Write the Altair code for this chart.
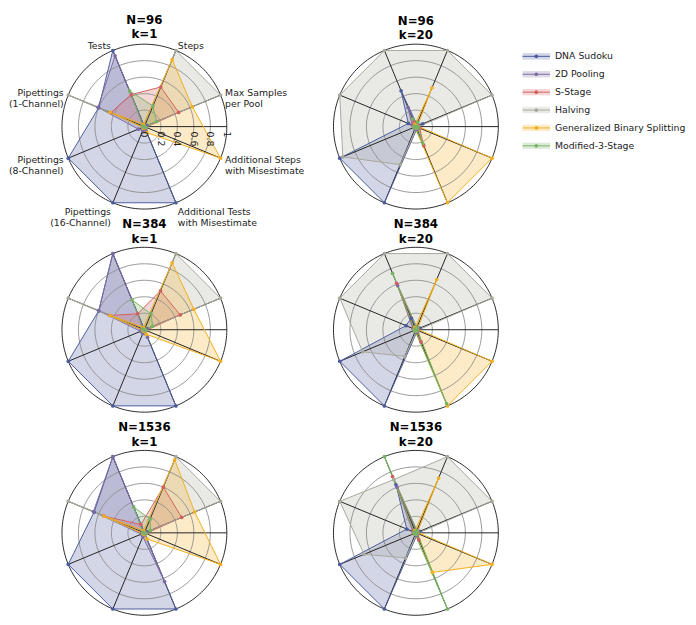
import altair as alt
import pandas as pd

FONT = "DejaVu Sans"

# categories in counter-clockwise order, starting at 22.5 degrees
CATEGORIES = [
    "Max Samples\nper Pool",
    "Steps",
    "Tests",
    "Pipettings\n(1-Channel)",
    "Pipettings\n(8-Channel)",
    "Pipettings\n(16-Channel)",
    "Additional Tests\nwith Misestimate",
    "Additional Steps\nwith Misestimate",
]
METHODS = ["DNA Sudoku", "2D Pooling", "S-Stage", "Halving",
           "Generalized Binary Splitting", "Modified-3-Stage"]
LINE_COLORS = ["#4a5c9e", "#7d6ba3", "#d35f5f", "#a7a89a", "#f2ae1c", "#78b265"]

PANEL_TITLES = [["N=96", "k=1"], ["N=96", "k=20"],
                ["N=384", "k=1"], ["N=384", "k=20"],
                ["N=1536", "k=1"], ["N=1536", "k=20"]]
RING_VALUES = [0.2, 0.4, 0.6, 0.8, 1.0]
TICK_VALUES = [0, 0.2, 0.4, 0.6, 0.8, 1.0]
TICK_LABELS = ["0", "0.2", "0.4", "0.6", "0.8", "1"]

# normalised values, in CATEGORIES order
N96_K1 = {
    "DNA Sudoku":                   [0.03, 0.00, 1.00, 0.60, 1.00, 1.00, 1.00, 0.00],
    "2D Pooling":                   [0.02, 0.00, 0.93, 0.61, 0.08, 0.05, 0.05, 0.00],
    "S-Stage":                      [0.45, 0.52, 0.42, 0.44, 0.02, 0.02, 0.02, 0.02],
    "Halving":                      [1.00, 1.00, 0.02, 1.00, 0.02, 0.02, 0.00, 0.00],
    "Generalized Binary Splitting": [0.63, 0.88, 0.03, 0.45, 0.02, 0.02, 0.08, 1.00],
    "Modified-3-Stage":             [0.16, 0.27, 0.47, 0.02, 0.01, 0.01, 0.01, 0.02],
}
N96_K20 = {
    "DNA Sudoku":                   [0.09, 0.03, 0.47, 0.10, 1.00, 1.00, 0.03, 0.00],
    "2D Pooling":                   [0.02, 0.02, 0.25, 0.05, 0.03, 0.03, 0.03, 0.00],
    "S-Stage":                      [0.03, 0.04, 0.06, 0.03, 0.02, 0.02, 0.25, 0.05],
    "Halving":                      [1.00, 1.00, 1.00, 1.00, 0.96, 0.50, 0.02, 0.02],
    "Generalized Binary Splitting": [0.02, 0.51, 0.03, 0.02, 0.02, 0.02, 1.00, 1.00],
    "Modified-3-Stage":             [0.02, 0.06, 0.10, 0.02, 0.02, 0.02, 0.22, 0.03],
}
N384_K1 = {
    "DNA Sudoku":                   [0.03, 0.00, 1.00, 0.60, 1.00, 1.00, 1.00, 0.00],
    "2D Pooling":                   [0.02, 0.00, 1.00, 0.60, 0.05, 0.05, 0.10, 0.00],
    "S-Stage":                      [0.47, 0.51, 0.21, 0.45, 0.02, 0.02, 0.02, 0.02],
    "Halving":                      [1.00, 1.00, 0.02, 1.00, 0.02, 0.02, 0.00, 0.00],
    "Generalized Binary Splitting": [0.65, 0.88, 0.03, 0.45, 0.02, 0.02, 0.06, 1.00],
    "Modified-3-Stage":             [0.11, 0.21, 0.39, 0.02, 0.01, 0.01, 0.01, 0.02],
}
N384_K20 = {
    "DNA Sudoku":                   [0.05, 0.02, 0.15, 0.13, 1.00, 1.00, 0.03, 0.00],
    "2D Pooling":                   [0.02, 0.02, 0.58, 0.04, 0.02, 0.02, 0.03, 0.00],
    "S-Stage":                      [0.03, 0.03, 0.61, 0.03, 0.02, 0.02, 0.16, 0.03],
    "Halving":                      [1.00, 1.00, 1.00, 1.00, 0.70, 0.35, 0.02, 0.02],
    "Generalized Binary Splitting": [0.02, 0.66, 0.03, 0.02, 0.02, 0.02, 1.00, 1.00],
    "Modified-3-Stage":             [0.02, 0.03, 0.74, 0.02, 0.02, 0.02, 0.97, 0.02],
}
N1536_K1 = {
    "DNA Sudoku":                   [0.03, 0.00, 1.00, 0.66, 1.00, 1.00, 1.00, 0.00],
    "2D Pooling":                   [0.02, 0.00, 1.00, 0.67, 0.04, 0.05, 0.64, 0.00],
    "S-Stage":                      [0.49, 0.60, 0.11, 0.53, 0.02, 0.02, 0.02, 0.02],
    "Halving":                      [1.00, 1.00, 0.02, 1.00, 0.02, 0.02, 0.00, 0.00],
    "Generalized Binary Splitting": [0.66, 0.96, 0.03, 0.53, 0.02, 0.02, 0.08, 1.00],
    "Modified-3-Stage":             [0.08, 0.18, 0.34, 0.02, 0.01, 0.01, 0.01, 0.02],
}
N1536_K20 = {
    "DNA Sudoku":                   [0.05, 0.02, 0.63, 0.12, 1.00, 1.00, 0.03, 0.00],
    "2D Pooling":                   [0.02, 0.02, 0.60, 0.04, 0.02, 0.02, 0.03, 0.00],
    "S-Stage":                      [0.03, 0.03, 0.74, 0.03, 0.02, 0.02, 0.09, 0.03],
    "Halving":                      [1.00, 1.00, 0.70, 1.00, 0.68, 0.33, 0.02, 0.02],
    "Generalized Binary Splitting": [0.02, 0.72, 0.03, 0.02, 0.02, 0.02, 0.52, 1.00],
    "Modified-3-Stage":             [0.02, 0.03, 1.00, 0.02, 0.02, 0.02, 1.00, 0.02],
}
PANEL_DATA = [N96_K1, N96_K20, N384_K1, N384_K20, N1536_K1, N1536_K20]

rows = []
for p, d in enumerate(PANEL_DATA):
    for m in METHODS:
        for i, v in enumerate(d[m]):
            rows.append({"panel": p, "method": m, "idx": i, "value": v})
df = pd.DataFrame(rows)

R = 84  # pixel radius
color_scale = alt.Scale(domain=METHODS, range=LINE_COLORS)
ANG = "(22.5 + 45*datum.idx) * PI / 180"


def make_panel(p, wide, labels):
    xs = alt.Scale(domain=[-1, 2 if wide else 1], nice=False, zero=False)
    ys = alt.Scale(domain=[-1, 1], nice=False, zero=False)

    def X(f):
        return alt.X(f, type="quantitative", scale=xs, axis=None)

    def Y(f):
        return alt.Y(f, type="quantitative", scale=ys, axis=None)

    base = (alt.Chart(df)
            .transform_filter(alt.datum.panel == p)
            .transform_calculate(ang=ANG)
            .transform_calculate(px="datum.value * cos(datum.ang)",
                                 py="datum.value * sin(datum.ang)"))

    fills = base.mark_line(interpolate="linear-closed", strokeOpacity=0,
                           fillOpacity=0.25).encode(
        x=X("px"), y=Y("py"),
        fill=alt.Fill("method:N", scale=color_scale, legend=None),
        order=alt.Order("idx:Q"))

    rings = (alt.Chart(pd.DataFrame({"r": RING_VALUES}))
             .transform_calculate(a="sequence(0, 361, 2)")
             .transform_flatten(["a"])
             .transform_calculate(rx="datum.r*cos(datum.a*PI/180)",
                                  ry="datum.r*sin(datum.a*PI/180)")
             .mark_line(strokeWidth=0.9)
             .encode(x=X("rx"), y=Y("ry"), detail="r:N", order="a:Q",
                     stroke=alt.condition("datum.r >= 1", alt.value("#111111"),
                                          alt.value("#8a8a8a"))))

    spoke_deg = [0] + [22.5 + 45 * i for i in range(len(CATEGORIES))]
    spokes = (alt.Chart(pd.DataFrame({"deg": spoke_deg}))
              .transform_calculate(zx="0", zy="0",
                                   ex="cos(datum.deg*PI/180)",
                                   ey="sin(datum.deg*PI/180)")
              .mark_rule(color="#222222", strokeWidth=1)
              .encode(x=X("zx"), y=Y("zy"), x2="ex:Q", y2="ey:Q"))

    lines = base.mark_line(interpolate="linear-closed", strokeWidth=1).encode(
        x=X("px"), y=Y("py"),
        stroke=alt.Stroke("method:N", scale=color_scale, legend=None),
        order=alt.Order("idx:Q"))

    points = base.mark_circle(size=14, opacity=1).encode(
        x=X("px"), y=Y("py"),
        color=alt.Color("method:N", scale=color_scale, legend=None))

    layers = [fills, rings, spokes, lines, points]

    if labels:
        ticks = (alt.Chart(pd.DataFrame({"r": TICK_VALUES, "lab": TICK_LABELS}))
                 .transform_calculate(zy="0")
                 .mark_text(angle=90, align="left", baseline="middle", dx=5,
                            fontSize=9.5, font=FONT, color="#222222")
                 .encode(x=X("r"), y=Y("zy"), text="lab:N"))
        layers.append(ticks)

        lab_base = (alt.Chart(pd.DataFrame({"idx": list(range(len(CATEGORIES))),
                                            "label": CATEGORIES}))
                    .transform_calculate(ang=ANG)
                    .transform_calculate(lx="1.06*cos(datum.ang)",
                                         ly="1.06*sin(datum.ang)",
                                         lines="split(datum.label, '\\n')"))

        def lab(ids, align, baseline):
            return (lab_base.transform_filter(alt.FieldOneOfPredicate(field="idx", oneOf=ids))
                    .mark_text(align=align, baseline=baseline, fontSize=9.5,
                               lineHeight=11.5, font=FONT, color="#222222")
                    .encode(x=X("lx"), y=Y("ly"), text="lines:N"))

        layers += [lab([0, 1, 7], "left", "middle"), lab([6], "left", "top"),
                   lab([2, 3, 4], "right", "middle"), lab([5], "right", "top")]

    return alt.layer(*layers).properties(
        width=3 * R if wide else 2 * R, height=2 * R,
        title=alt.TitleParams(PANEL_TITLES[p], font=FONT, fontSize=12, fontWeight="bold",
                              anchor="start", align="center", dx=R, frame="group",
                              offset=0, lineHeight=14.5, color="#000000"))


# legend
leg_df = pd.DataFrame({"method": METHODS})
leg_y = alt.Y("method:N", sort=METHODS, axis=None,
              scale=alt.Scale(type="point", padding=0.68))
leg_base = alt.Chart(leg_df).encode(y=leg_y)
band = leg_base.mark_rule(strokeWidth=6.5, opacity=0.25).encode(
    x=alt.value(0), x2=alt.value(28),
    color=alt.Color("method:N", scale=color_scale, legend=None))
leg_line = leg_base.mark_rule(strokeWidth=1).encode(
    x=alt.value(0), x2=alt.value(28),
    color=alt.Color("method:N", scale=color_scale, legend=None))
leg_pt = leg_base.mark_circle(size=14, opacity=1).encode(
    x=alt.value(14), color=alt.Color("method:N", scale=color_scale, legend=None))
leg_txt = leg_base.mark_text(align="left", baseline="middle", fontSize=9.5,
                             font=FONT, color="#222222").encode(
    x=alt.value(33), text="method:N")
legend = alt.layer(band, leg_line, leg_pt, leg_txt).properties(width=166, height=116)


def filler():
    return (alt.Chart(pd.DataFrame({"a": [0]})).mark_point(opacity=0)
            .encode(x=alt.X("a:Q", axis=None), y=alt.Y("a:Q", axis=None))
            .properties(width=1, height=1))


chart = alt.concat(
    make_panel(0, True, True), make_panel(1, False, False), legend,
    make_panel(2, True, False), make_panel(3, False, False), filler(),
    make_panel(4, True, False), make_panel(5, False, False), filler(),
    columns=3, spacing={"row": 39, "column": 24.7}, bounds="flush",
).properties(
    padding={"left": 0, "top": 0, "right": 2, "bottom": 0}
).configure(font=FONT).configure_view(strokeWidth=0, stroke="transparent")

chart.save("out.html", embed_options={"renderer": "svg", "actions": False})
